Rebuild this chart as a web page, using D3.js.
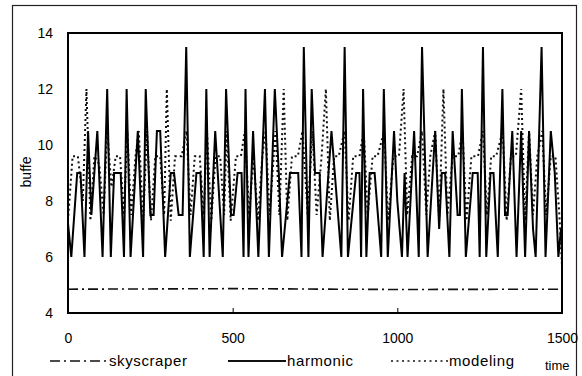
<!DOCTYPE html>
<html><head><meta charset="utf-8">
<script src="https://cdn.jsdelivr.net/npm/d3@7"></script>
<style>body{margin:0;background:#fff}svg{display:block}text{font-family:"Liberation Sans",Arial,sans-serif;fill:#000}</style>
</head><body><svg id="c" width="582" height="376"></svg>
<script>
const xTicks = [0, 500, 1000, 1500];
const yTicks = [4, 6, 8, 10, 12, 14];
const seriesNames = ["skyscraper", "harmonic", "modeling"];
const skyscraper = [[0,4.85],[500,4.87],[1000,4.84],[1500,4.85]];
const harmonic = [[0,7.2],[10,6],[28,9],[38,9],[50,6],[61,10.5],[71,7.5],[89,10.5],[105,6],[119,12],[130,6],[140,9],[160,9],[170,6],[178,12],[190,6],[212,10.5],[228,6],[236,12],[250,7.5],[260,7.5],[270,10.5],[280,10.5],[295,6],[312,9],[322,9],[336,7.5],[348,7.5],[359,13.5],[370,6],[390,9],[402,9],[412,6],[420,12],[430,6],[447,10.5],[470,6],[480,12],[495,7.5],[503,7.5],[515,9],[527,9],[533,6],[539,12],[548,6],[562,10.5],[578,6],[598,12],[610,6],[628,12],[640,9],[650,6],[674,9],[699,9],[709,6],[716,13.5],[730,6],[740,12],[750,9],[764,9],[773,6],[800,10.5],[830,6],[840,13.5],[850,6],[875,9],[885,9],[890,6],[896,12],[906,6],[916,9],[931,9],[951,6],[959,12],[971,6],[990,10.5],[1000,8],[1014,6],[1022,9],[1031,6],[1051,10.5],[1065,6],[1075,13.5],[1092,6],[1115,10.5],[1127,7],[1135,9],[1145,9],[1158,6],[1168,10.5],[1183,7.5],[1190,7.5],[1196,12],[1208,6],[1229,9],[1244,9],[1250,6],[1260,13.5],[1270,6],[1283,9],[1292,9],[1305,6],[1319,12],[1327,7.5],[1335,7.5],[1349,10.5],[1362,6],[1376,10.5],[1388,6],[1400,10.5],[1412,7],[1420,6],[1438,13.5],[1450,6],[1466,10.5],[1478,9],[1489,6],[1497,7]];
const modeling = [[0,7.3],[14,9.6],[30,9.6],[45,8],[56,12],[68,7.3],[80,9.6],[95,9.3],[108,7.5],[119,10.5],[132,8.5],[145,9.6],[158,9.6],[170,7.5],[180,10.5],[192,7.5],[205,9.6],[215,10.5],[228,7.3],[240,10.5],[252,7.3],[265,9.6],[280,9.6],[292,7.5],[300,12],[312,7.3],[325,9.6],[345,9.6],[360,10.5],[372,7.5],[385,9.6],[400,9.6],[412,7.5],[422,10.5],[435,7.3],[448,9.6],[462,9.6],[474,7.5],[482,10.5],[494,7.3],[510,9.6],[525,9.6],[537,10.5],[550,7.5],[563,9.6],[577,7.3],[590,9.6],[600,10.5],[612,7.5],[630,10.5],[642,7.5],[655,12],[666,7.3],[680,9.6],[698,9.6],[712,10.5],[728,7.5],[742,10.5],[755,7.5],[770,9.6],[783,12],[795,7.3],[808,9.6],[822,9.6],[840,10.5],[852,7.3],[866,9.6],[885,9.6],[898,10.5],[910,7.5],[925,9.6],[940,9.6],[960,10.5],[972,7.3],[988,9.6],[1005,9.6],[1019,12],[1030,7.5],[1045,9.6],[1060,9.6],[1075,10.5],[1088,7.5],[1100,9.6],[1115,10.5],[1127,7.3],[1140,12],[1152,7.5],[1168,9.6],[1185,9.6],[1198,10.5],[1210,7.3],[1225,9.6],[1245,9.6],[1260,10.5],[1272,7.5],[1285,9.6],[1300,9.6],[1320,10.5],[1332,7.3],[1345,9.6],[1360,9.6],[1376,12],[1388,7.3],[1400,10.5],[1412,7.5],[1425,9.6],[1440,10.5],[1452,7.5],[1466,9.6],[1480,9.6],[1492,7.5],[1500,5.7]];

const svg = d3.select("#c");
const L = 68, R = 562, T = 33, B = 313;
const x = d3.scaleLinear().domain([0,1500]).range([L,R]);
const y = d3.scaleLinear().domain([4,14]).range([B,T]);

// outer frame
svg.append("rect").attr("x",12.5).attr("y",5.5).attr("width",564).attr("height",380)
  .attr("fill","none").attr("stroke","#222").attr("stroke-width",1.2);

const line = d3.line().x(d=>x(d[0])).y(d=>y(d[1]));
const g = svg.append("g");
g.append("path").datum(skyscraper).attr("d",line).attr("fill","none").attr("stroke","#111")
  .attr("stroke-width",1.6).attr("stroke-dasharray","10,4,2,4");
g.append("path").datum(modeling).attr("d",line).attr("fill","none").attr("stroke","#111")
  .attr("stroke-width",2).attr("stroke-dasharray","2,3");
g.append("path").datum(harmonic).attr("d",line).attr("fill","none").attr("stroke","#000")
  .attr("stroke-width",2).attr("stroke-linejoin","miter");

// plot frame
svg.append("rect").attr("x",L).attr("y",T).attr("width",R-L).attr("height",B-T)
  .attr("fill","none").attr("stroke","#000").attr("stroke-width",2);

// axes
const xa = svg.append("g").attr("transform",`translate(0,${B})`)
  .call(d3.axisBottom(x).tickValues(xTicks).tickSize(-5).tickPadding(20).tickFormat(d3.format("d")));
xa.select(".domain").remove();
xa.selectAll("line").attr("stroke","#000");
xa.selectAll("text").attr("font-size",14).attr("fill","#000");
const ya = svg.append("g").attr("transform",`translate(${L},0)`)
  .call(d3.axisLeft(y).tickValues(yTicks).tickSize(0).tickPadding(15));
ya.select(".domain").remove();
ya.selectAll("text").attr("font-size",14).attr("fill","#000");

svg.append("text").attr("transform","translate(31,172) rotate(-90)").attr("text-anchor","middle")
  .attr("font-size",14).text("buffe");

// legend
const leg = [
  {name:seriesNames[0], x1:50, x2:108, dash:"10,4,2,4", w:1.4, tx:109},
  {name:seriesNames[1], x1:228, x2:286, dash:null, w:2, tx:287},
  {name:seriesNames[2], x1:391, x2:448, dash:"2,3.5", w:1.5, tx:449}
];
leg.forEach(l=>{
  svg.append("line").attr("x1",l.x1).attr("x2",l.x2).attr("y1",361).attr("y2",361)
    .attr("stroke","#111").attr("stroke-width",l.w).attr("stroke-dasharray",l.dash);
  svg.append("text").attr("x",l.tx).attr("y",366).attr("font-size",15).attr("letter-spacing",0.6).text(l.name);
});
svg.append("text").attr("x",545).attr("y",370).attr("font-size",13).text("time");
</script></body></html>
